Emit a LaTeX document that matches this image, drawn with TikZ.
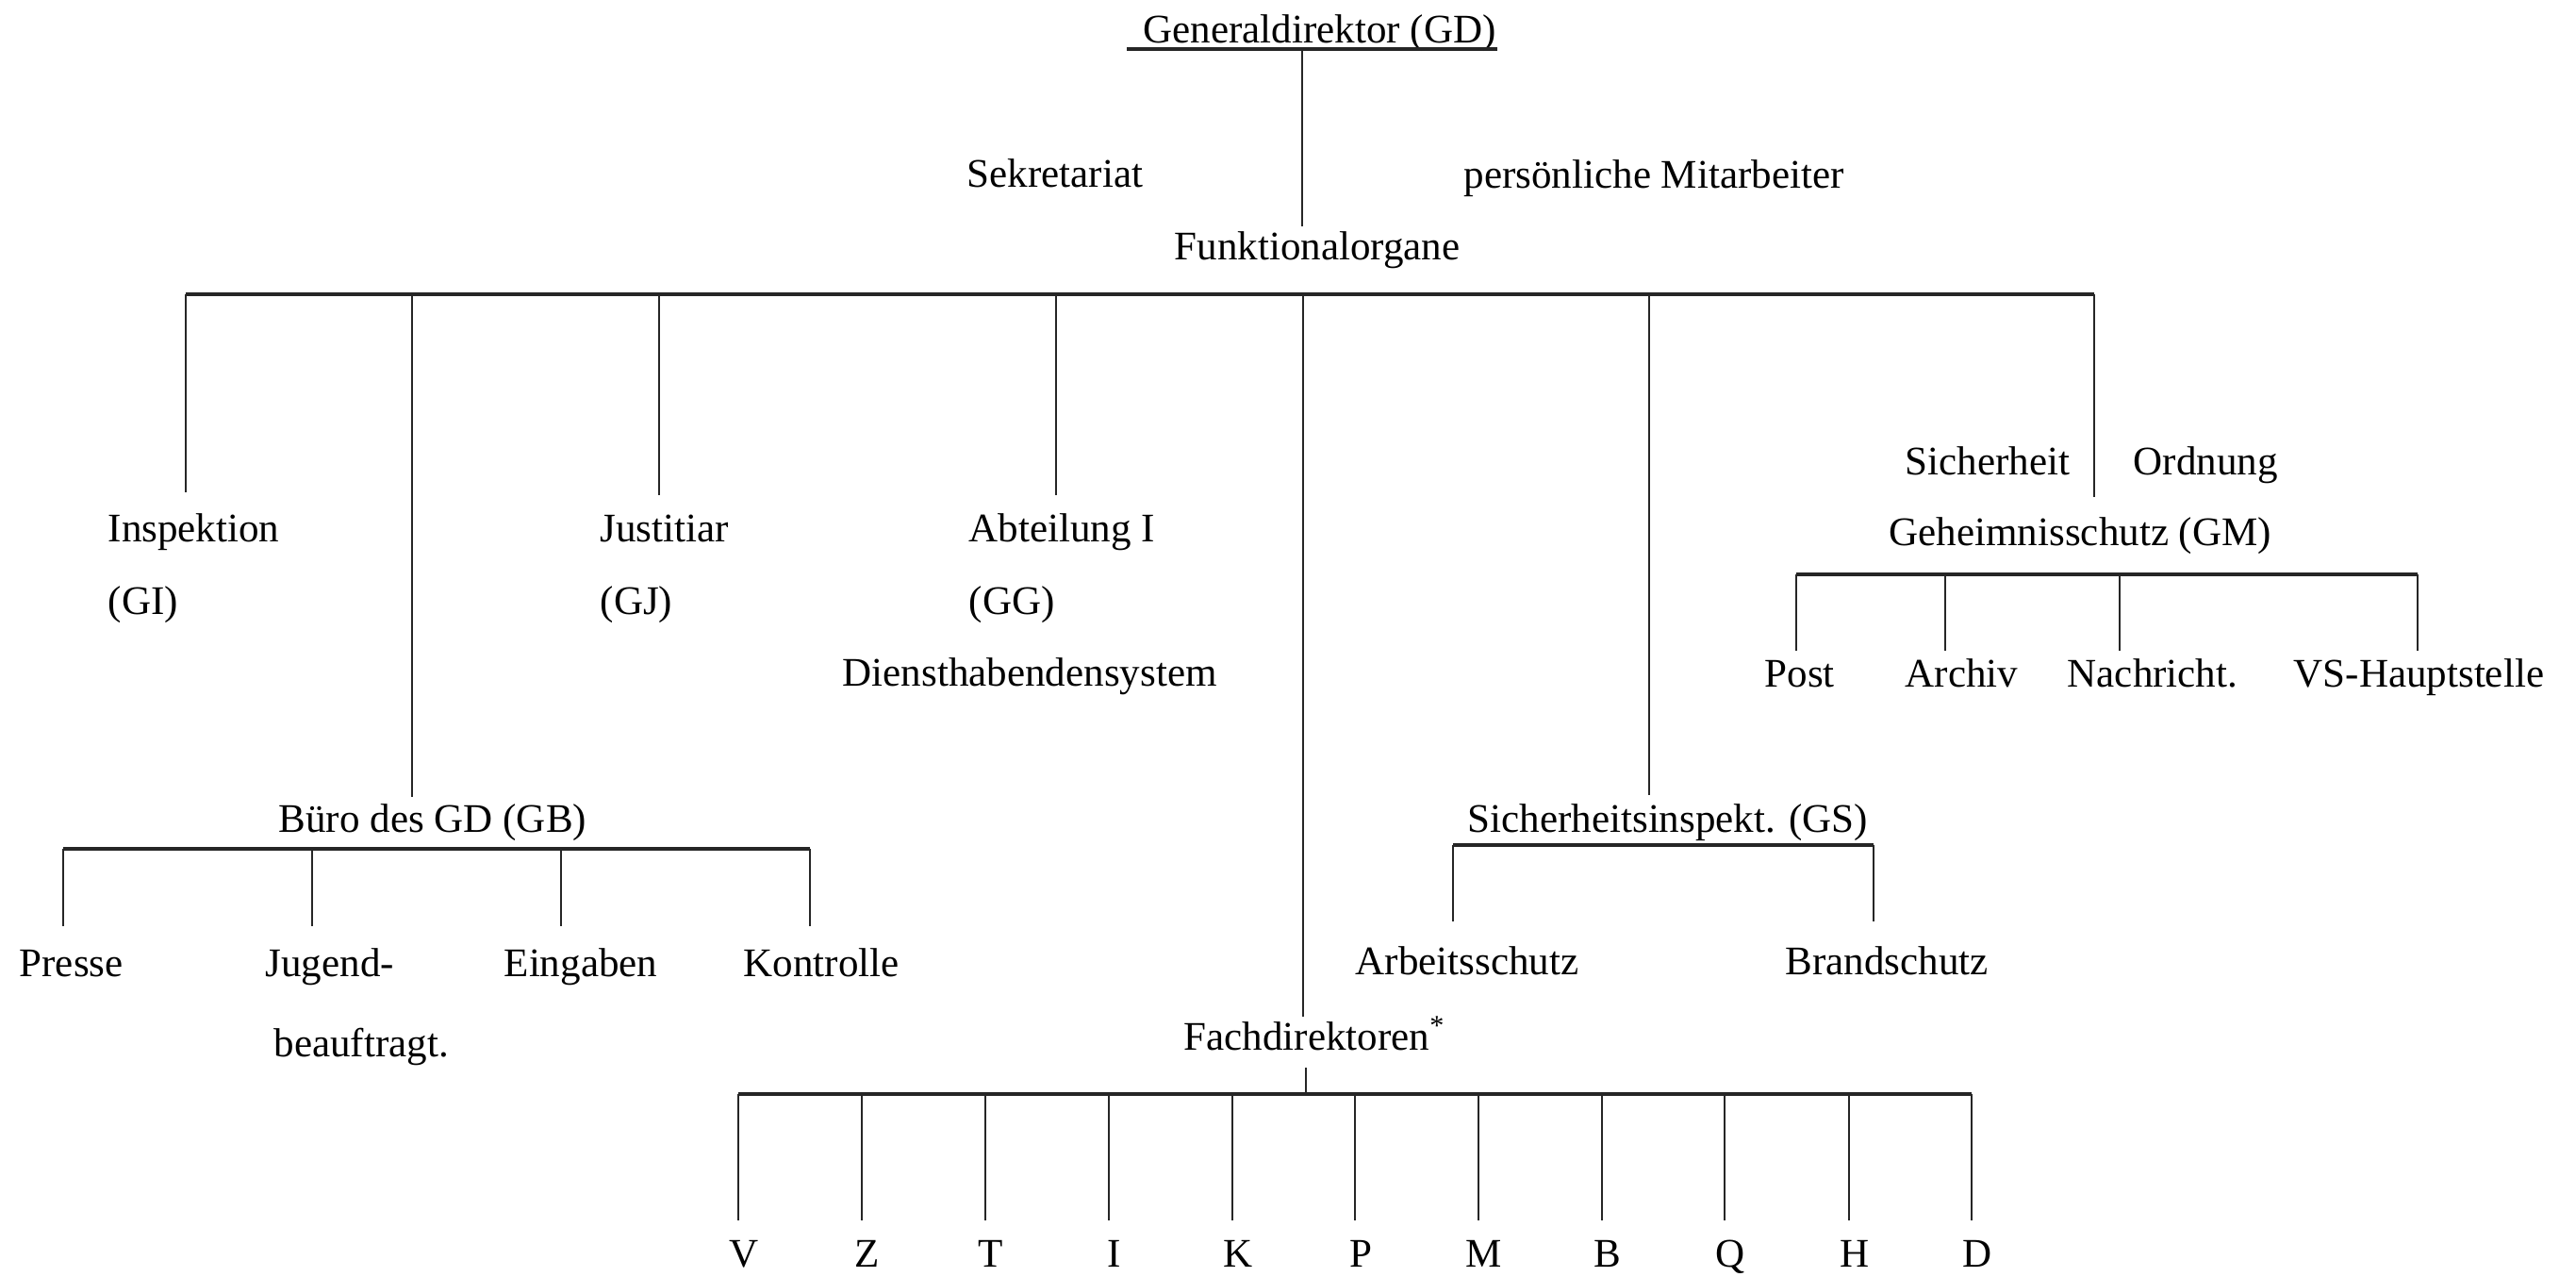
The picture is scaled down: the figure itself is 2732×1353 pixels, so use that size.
\documentclass[tikz,border=0pt]{standalone}
\usepackage{fontspec}
\setmainfont{Liberation Serif}
\tikzset{
  lbl/.style={anchor=base west, inner sep=0pt, font=\fontsize{12.24pt}{14pt}\selectfont},
  lblc/.style={anchor=base, inner sep=0pt, font=\fontsize{12.24pt}{14pt}\selectfont},
  ln/.style={line width=0.8pt, black!85},
  bar/.style={line width=1.1pt, black!85},
}
\begin{document}
\begin{tikzpicture}[x=0.01cm,y=-0.01cm]
\useasboundingbox[fill=white] (0,0) rectangle (2732,1353);

% ---------- top ----------
\node[lbl] (gd) at (1212,45) {Generaldirektor (GD)};
\coordinate (gdL) at (1195,52);
\coordinate (gdR) at (1588,52);
\coordinate (gdC) at (1381,52);
\draw[bar] (gdL) -- (gdR);
\node[lbl] (sek) at (1025,198) {Sekretariat};
\node[lbl] (pm) at (1552,199) {persönliche Mitarbeiter};
\node[lbl] (fo) at (1245,275) {Funktionalorgane};
\coordinate (foT) at (1381,240);
\draw[ln] (gdC) -- (foT);

% ---------- main bar ----------
\coordinate (mL) at (197,312);
\coordinate (mR) at (2221,312);
\draw[bar] (mL) -- (mR);

% Inspektion
\coordinate (inB) at (197,522);
\draw[ln] (mL) -- (inB);
\node[lbl] (insp) at (114,574) {Inspektion};
\node[lbl] (gi) at (114,651) {(GI)};

% Justitiar
\coordinate (juT) at (699,312);
\coordinate (juB) at (699,525);
\draw[ln] (juT) -- (juB);
\node[lbl] (just) at (636,574) {Justitiar};
\node[lbl] (gj) at (636,651) {(GJ)};

% Abteilung I
\coordinate (abT) at (1120,312);
\coordinate (abB) at (1120,525);
\draw[ln] (abT) -- (abB);
\node[lbl] (abt) at (1027,574) {Abteilung I};
\node[lbl] (gg) at (1027,651) {(GG)};
\node[lbl] (dhs) at (893,727) {Diensthabendensystem};

% Buero des GD
\coordinate (buT) at (437,312);
\coordinate (buB) at (437,845);
\draw[ln] (buT) -- (buB);
\node[lbl] (buero) at (295,882) {Büro des GD (GB)};
\coordinate (bbL) at (67,900);
\coordinate (bbR) at (859,900);
\draw[bar] (bbL) -- (bbR);
\coordinate (bb1) at (67,982);
\coordinate (bb2t) at (331,900);
\coordinate (bb2) at (331,982);
\coordinate (bb3t) at (595,900);
\coordinate (bb3) at (595,982);
\coordinate (bb4) at (859,982);
\draw[ln] (bbL) -- (bb1);
\draw[ln] (bb2t) -- (bb2);
\draw[ln] (bb3t) -- (bb3);
\draw[ln] (bbR) -- (bb4);
\node[lbl] (presse) at (20,1035) {Presse};
\node[lbl] (jug) at (281,1035) {Jugend-};
\node[lbl] (jug2) at (290,1120) {beauftragt.};
\node[lbl] (eing) at (534,1035) {Eingaben};
\node[lbl] (kontr) at (788,1035) {Kontrolle};

% Sicherheitsinspektion
\coordinate (siT) at (1749,312);
\coordinate (siB) at (1749,843);
\draw[ln] (siT) -- (siB);
\node[lbl] (gs) at (1556,882) {Sicherheitsinspekt. (GS)};
\coordinate (sbL) at (1541,896);
\coordinate (sbR) at (1987,896);
\draw[bar] (sbL) -- (sbR);
\coordinate (sb1) at (1541,977);
\coordinate (sb2) at (1987,977);
\draw[ln] (sbL) -- (sb1);
\draw[ln] (sbR) -- (sb2);
\node[lbl] (arb) at (1437,1033) {Arbeitsschutz};
\node[lbl] (brand) at (1893,1033) {Brandschutz};

% Geheimnisschutz
\coordinate (gmB) at (2221,527);
\draw[ln] (mR) -- (gmB);
\node[lbl] (sich) at (2020,503) {Sicherheit};
\node[lbl] (ord) at (2262,503) {Ordnung};
\node[lbl] (gm) at (2003,578) {Geheimnisschutz (GM)};
\coordinate (gbL) at (1905,609);
\coordinate (gbR) at (2564,609);
\draw[bar] (gbL) -- (gbR);
\coordinate (gb1) at (1905,690);
\coordinate (gb2t) at (2063,609);
\coordinate (gb2) at (2063,690);
\coordinate (gb3t) at (2248,609);
\coordinate (gb3) at (2248,690);
\coordinate (gb4) at (2564,690);
\draw[ln] (gbL) -- (gb1);
\draw[ln] (gb2t) -- (gb2);
\draw[ln] (gb3t) -- (gb3);
\draw[ln] (gbR) -- (gb4);
\node[lbl] (post) at (1871,728) {Post};
\node[lbl] (archiv) at (2020,728) {Archiv};
\node[lbl] (nachr) at (2192,728) {Nachricht.};
\node[lbl] (vs) at (2432,728) {VS-Hauptstelle};

% Fachdirektoren
\coordinate (fcT) at (1382,312);
\coordinate (fcB) at (1382,1078);
\draw[ln] (fcT) -- (fcB);
\node[lbl] (fach) at (1255,1113) {Fachdirektoren\textsuperscript{*}};
\coordinate (fsT) at (1385,1132);
\coordinate (fsB) at (1385,1160);
\draw[ln] (fsT) -- (fsB);
\coordinate (fbL) at (783,1160);
\coordinate (fbR) at (2091,1160);
\draw[bar] (fbL) -- (fbR);
\foreach \x/\l [count=\i] in {783/V,914/Z,1045/T,1176/I,1307/K,1437/P,1568/M,1699/B,1829/Q,1961/H,2091/D}{
  \coordinate (fdT\i) at (\x,1160);
  \coordinate (fdB\i) at (\x,1294);
  \draw[ln] (fdT\i) -- (fdB\i);
  \node[lblc] (fd\i) at (\x+6,1343) {\l};
}
\end{tikzpicture}
\end{document}
